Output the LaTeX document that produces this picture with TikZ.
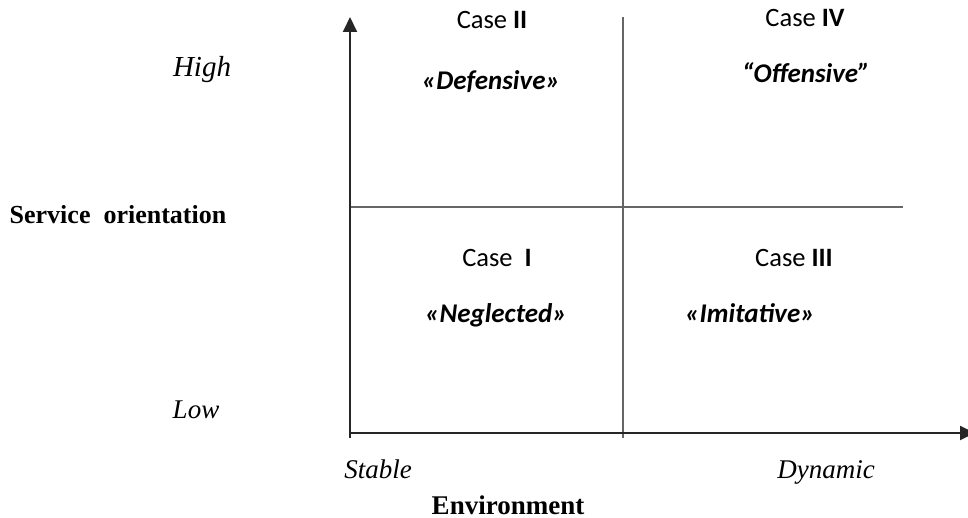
\documentclass[tikz,border=0pt]{standalone}
\usepackage{fontspec}
\setmainfont{Liberation Serif}
\newfontfamily\calfont{Carlito}
\usetikzlibrary{arrows.meta}
\tikzset{
  axis/.style={line width=2pt, black!85},
  divider/.style={line width=1.6pt, black!60},
  casetext/.style={font=\calfont\fontsize{26.5}{30}\selectfont, anchor=base, inner sep=0pt},
  nametext/.style={font=\calfont\fontsize{27}{31}\selectfont\bfseries\itshape, anchor=base, inner sep=0pt},
  serifit/.style={font=\fontsize{27}{31}\selectfont\itshape, anchor=base, inner sep=0pt},
  serifbf/.style={font=\fontsize{26}{30}\selectfont\bfseries, anchor=base, inner sep=0pt}
}
\begin{document}
\begin{tikzpicture}[x=1pt,y=-1pt]
\useasboundingbox (0,0) rectangle (968,518);
% axes
\coordinate (O) at (350,433);
\coordinate (Ytop) at (350,17);
\coordinate (Xend) at (975,433);
\coordinate (Mtop) at (623,17);
\coordinate (Mbot) at (623,438);
\coordinate (Hl) at (350,207);
\coordinate (Hr) at (903,207);
\coordinate (Obot) at (350,438);
\draw[divider] (Mtop) -- (Mbot);
\draw[divider] (Hl) -- (Hr);
\draw[axis, -{Triangle[width=14pt,length=15pt]}] (Obot) -- (Ytop);
\draw[axis, -{Triangle[width=14pt,length=15pt]}] (O) -- (Xend);
% quadrant labels
\node[casetext] (c2) at (492,29) {Case \textbf{II}};
\node[nametext] (n2) at (491,90) {«Defensive»};
\node[casetext] (c4) at (805,27) {Case \textbf{IV}};
\node[nametext] (n4) at (806,83) {“Offensive”};
\node[casetext] (c1) at (497,267) {Case\ \ \textbf{I}};
\node[nametext] (n1) at (496,323) {«Neglected»};
\node[casetext] (c3) at (794,267) {Case \textbf{III}};
\node[nametext] (n3) at (750,323) {«Imitative»};
% axis labels
\node[serifit, font=\fontsize{29}{33}\selectfont\itshape] (hi) at (202,77) {High};
\node[serifit] (lo) at (196,418) {Low};
\node[serifbf] (so) at (118,224) {Service\ \ orientation};
\node[serifit] (st) at (378,478) {Stable};
\node[serifit] (dy) at (826,478) {Dynamic};
\node[serifbf, font=\fontsize{27}{31}\selectfont\bfseries] (en) at (508,514) {Environment};
\end{tikzpicture}
\end{document}
